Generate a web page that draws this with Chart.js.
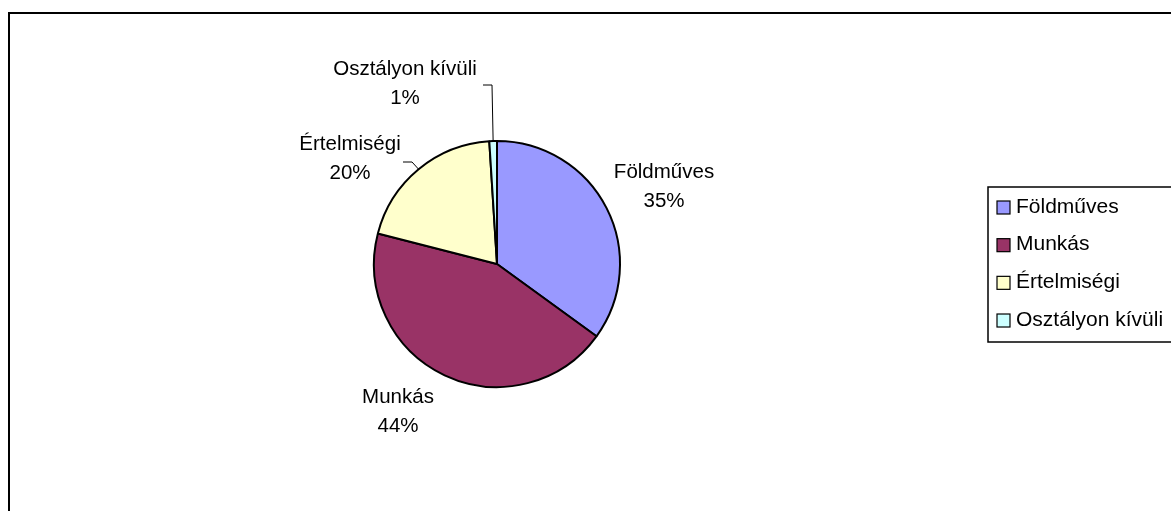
<!DOCTYPE html>
<html><head><meta charset="utf-8">
<script src="https://cdn.jsdelivr.net/npm/chart.js@4.4.1/dist/chart.umd.min.js"></script>
<style>html,body{margin:0;padding:0;background:#fff;overflow:hidden}#wrap{width:1171px;height:511px;position:relative}</style>
</head><body><div id="wrap"><canvas id="c" width="1171" height="511"></canvas></div>
<script>
const categories = ["Földműves", "Munkás", "Értelmiségi", "Osztályon kívüli"];
const values = [35, 44, 20, 1];
const percentLabels = ["35%", "44%", "20%", "1%"];

const sliceColors = ["#9999FF", "#993366", "#FFFFCC", "#CCFFFF"];
const FONT = "20.5px 'Liberation Sans', Arial, sans-serif";
const LEGEND_FONT = "21px 'Liberation Sans', Arial, sans-serif";
// label text centres relative to pie centre (first line), and leader elbows
const labelPos = [
  {dx: 167, dy: -92},
  {dx: -99, dy: 133},
  {dx: -147, dy: -120},
  {dx: -92, dy: -195}
];
const leaders = [
  null,
  null,
  [{dx: -85, dy: -102}, {dx: -94, dy: -102}],
  [{dx: -5, dy: -179}, {dx: -14, dy: -179}]
];

const decor = {
  id: 'decor',
  afterDatasetsDraw(chart) {
    const ctx = chart.ctx;
    const meta = chart.getDatasetMeta(0);
    const arc0 = meta.data[0];
    const cx = arc0.x, cy = arc0.y;
    ctx.save();
    // outer frame
    ctx.strokeStyle = '#000';
    ctx.lineWidth = 2;
    ctx.strokeRect(9, 13, 1300, 700);
    // labels
    ctx.font = FONT;
    ctx.fillStyle = '#000';
    ctx.textAlign = 'center';
    ctx.textBaseline = 'middle';
    meta.data.forEach((arc, i) => {
      const p = labelPos[i];
      const x = cx + p.dx, y = cy + p.dy;
      ctx.fillText(categories[i], x, y);
      ctx.fillText(percentLabels[i], x, y + 29);
      if (leaders[i]) {
        const mid = (arc.startAngle + arc.endAngle) / 2;
        const r = arc.outerRadius;
        ctx.beginPath();
        ctx.lineWidth = 1;
        ctx.moveTo(cx + r * Math.cos(mid), cy + r * Math.sin(mid));
        leaders[i].forEach(q => ctx.lineTo(cx + q.dx, cy + q.dy));
        ctx.stroke();
      }
    });
    // legend
    ctx.lineWidth = 1.5;
    ctx.strokeRect(988, 187, 400, 155);
    ctx.font = LEGEND_FONT;
    ctx.textAlign = 'left';
    categories.forEach((c, i) => {
      const ry = 207 + 37.67 * i;
      ctx.fillStyle = sliceColors[i];
      ctx.fillRect(997, ry - 6, 13, 13);
      ctx.lineWidth = 1.2;
      ctx.strokeStyle = '#000';
      ctx.strokeRect(997, ry - 6, 13, 13);
      ctx.fillStyle = '#000';
      ctx.fillText(c, 1016, ry);
    });
    ctx.restore();
  }
};

new Chart(document.getElementById('c'), {
  type: 'pie',
  data: {
    labels: categories,
    datasets: [{
      data: values,
      backgroundColor: sliceColors,
      borderColor: '#000',
      borderWidth: 2
    }]
  },
  options: {
    responsive: false,
    animation: false,
    devicePixelRatio: 1,
    layout: {padding: {left: 373, top: 140, right: 550, bottom: 123}},
    plugins: {legend: {display: false}, tooltip: {enabled: false}}
  },
  plugins: [decor]
});
</script></body></html>
